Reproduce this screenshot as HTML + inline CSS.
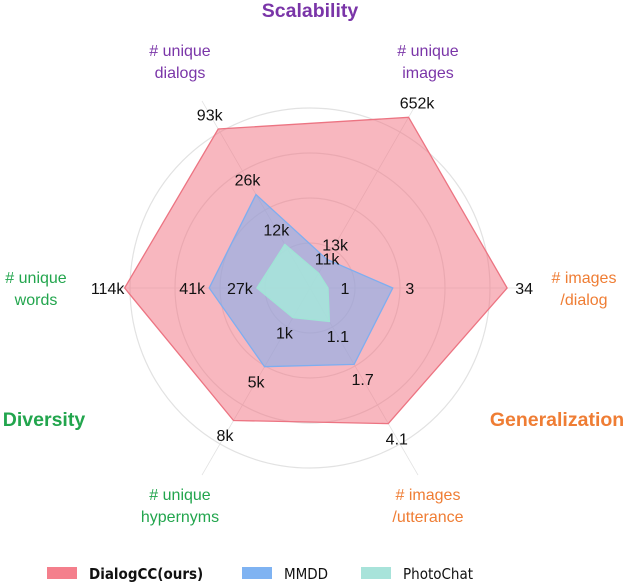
<!DOCTYPE html>
<html><head><meta charset="utf-8"><style>
body{margin:0;background:#fff;}
svg{display:block;font-family:"Liberation Sans",Arial,sans-serif;}
</style></head><body>
<svg id="chart" width="628" height="588">
<g id="grid"></g>
<g id="series"></g>
<g id="labels"></g>
<g font-size="16">
<text x="180" y="56" text-anchor="middle" fill="#7a35a8">#&#160;unique</text>
<text x="180" y="78" text-anchor="middle" fill="#7a35a8">dialogs</text>
<text x="428" y="56" text-anchor="middle" fill="#7a35a8">#&#160;unique</text>
<text x="428" y="78" text-anchor="middle" fill="#7a35a8">images</text>
<text x="584" y="283" text-anchor="middle" fill="#ef7d34">#&#160;images</text>
<text x="584" y="305" text-anchor="middle" fill="#ef7d34">/dialog</text>
<text x="36" y="283" text-anchor="middle" fill="#22a54d">#&#160;unique</text>
<text x="36" y="305" text-anchor="middle" fill="#22a54d">words</text>
<text x="180" y="500" text-anchor="middle" fill="#22a54d">#&#160;unique</text>
<text x="180" y="522" text-anchor="middle" fill="#22a54d">hypernyms</text>
<text x="428" y="500" text-anchor="middle" fill="#ef7d34">#&#160;images</text>
<text x="428" y="522" text-anchor="middle" fill="#ef7d34">/utterance</text>
</g>
<g font-size="19.5" font-weight="bold">
<text x="310" y="17" text-anchor="middle" fill="#7a35a8">Scalability</text>
<text x="44" y="426" text-anchor="middle" fill="#22a54d">Diversity</text>
<text x="557" y="426" text-anchor="middle" fill="#ef7d34">Generalization</text>
</g>
<g font-size="15" font-family="DejaVu Sans Condensed, DejaVu Sans, sans-serif">
<rect x="47" y="567" width="30" height="12" fill="#f47f8c"/>
<text x="89" y="579" font-weight="bold" fill="#111">DialogCC(ours)</text>
<rect x="242" y="567" width="30" height="12" fill="#7fb3f2"/>
<text x="284" y="579" fill="#111">MMDD</text>
<rect x="361" y="567" width="30" height="12" fill="#a8e3da"/>
<text x="403" y="579" fill="#111">PhotoChat</text>
</g>
</svg>
<script>
// axes order: images/dialog (0°), unique images (60°), unique dialogs (120°), words (180°), hypernyms (240°), images/utterance (300°)
const axes = ["images/dialog","unique images","unique dialogs","unique words","unique hypernyms","images/utterance"];
const dialogccVals = [1.095, 1.095, 1.02, 1.03, 0.85, 0.87];
const mmddVals = [0.46, 0.185, 0.60, 0.56, 0.505, 0.49];
const photochatVals = [0.10, 0.095, 0.28, 0.295, 0.19, 0.215];
const dialogccText = ["34","652k","93k","114k","8k","4.1"];
const mmddText = ["3","13k","26k","41k","5k","1.7"];
const photochatText = ["1","11k","12k","27k","1k","1.1"];
const gridLevels = [0.25,0.5,0.75,1];

const NS="http://www.w3.org/2000/svg";
const cx=310, cy=288, R=180;
function ang(i){return i*Math.PI/3;}
function px(i,v){return cx+Math.cos(ang(i))*v*R;}
function py(i,v){return cy-Math.sin(ang(i))*v*R;}
function mk(tag,attrs,parent){const e=document.createElementNS(NS,tag);for(const k in attrs)e.setAttribute(k,attrs[k]);parent.appendChild(e);return e;}
const grid=document.getElementById('grid');
gridLevels.forEach((g,k)=>{
  const c=mk('circle',{cx:cx,cy:cy,r:g*R,fill:'none',stroke:'#e2e2e2','stroke-width':1.2},grid);
  
  
});
axes.forEach((a,i)=>{
  const l=mk('line',{x1:cx,y1:cy,x2:px(i,1.2),y2:py(i,1.2),stroke:'#e2e2e2','stroke-width':0.8},grid);
  
  
});
const series=document.getElementById('series');
function poly(vals,fill,op,stroke,name){
  const pts=vals.map((v,i)=>px(i,v).toFixed(1)+','+py(i,v).toFixed(1)).join(' ');
  const p=mk('polygon',{points:pts,fill:fill,'fill-opacity':op,stroke:stroke,'stroke-width':1.3,'stroke-linejoin':'miter'},series);
  
  
}
poly(dialogccVals,'#f27080',0.5,'#ec7482','series-dialogcc');
poly(mmddVals,'#7aaef0',0.55,'#7eaef0','series-mmdd');
poly(photochatVals,'#a6e6da',0.85,'#a0e4d6','series-photochat');
const labels=document.getElementById('labels');
function lab(vals,texts,name){
  vals.forEach((v,i)=>{
    const r=v+17/R;
    const t=mk('text',{x:px(i,r),y:py(i,r)+6,'text-anchor':'middle','font-size':16,fill:'#111'},labels);
    t.textContent=texts[i];
    
    
  });
}
lab(dialogccVals,dialogccText,'dialogcc-value-label');
lab(mmddVals,mmddText,'mmdd-value-label');
lab(photochatVals,photochatText,'photochat-value-label');
</script>
</body></html>
